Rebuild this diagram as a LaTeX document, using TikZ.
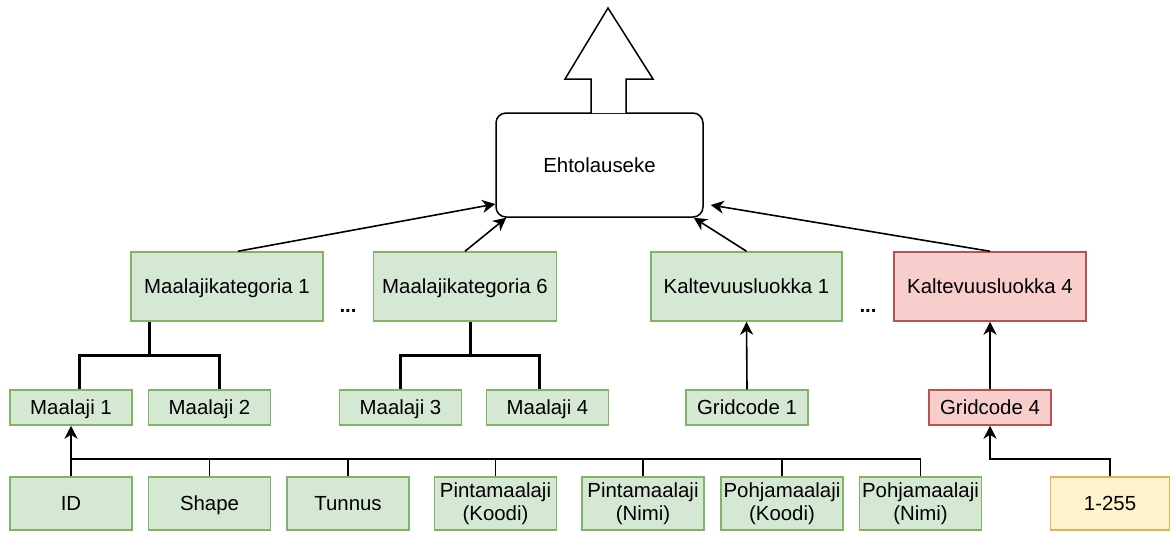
\documentclass[tikz,border=0pt]{standalone}
\usepackage{fontspec}
\setmainfont{Liberation Sans}
\usepackage{tikz}
\usetikzlibrary{calc,positioning}
\usetikzlibrary{arrows.meta}
\tikzset{>={Stealth[length=6.5pt,width=6.5pt,inset=2pt]}}
\definecolor{grnfill}{HTML}{D5E8D4}
\definecolor{grnline}{HTML}{82B366}
\definecolor{redfill}{HTML}{F8CECC}
\definecolor{redline}{HTML}{B85450}
\definecolor{yelfill}{HTML}{FFF2CC}
\definecolor{yelline}{HTML}{D6B656}

\begin{document}
\begin{tikzpicture}[x=0.5pt, y=-0.5pt, font=\fontsize{10.2}{11.7}\selectfont]
  \tikzstyle{gbox} = [draw=grnline, fill=grnfill, line width=0.75pt, inner sep=0pt, align=center]
  \tikzstyle{rbox} = [gbox, draw=redline, fill=redfill]
  \tikzstyle{ybox} = [gbox, draw=yelline, fill=yelfill]
  \tikzstyle{oneline} = [text height=8.5pt, text depth=1.2pt]
  \tikzstyle{katnode} = [oneline, minimum width=96pt, minimum height=34.5pt]
  \tikzstyle{lajinode} = [oneline, minimum width=61pt, minimum height=17.5pt]
  \tikzstyle{leafnode} = [minimum width=61pt, minimum height=26.5pt]
  \tikzstyle{conn} = [line width=0.8pt]
  \tikzstyle{tree} = [line width=1.5pt]

  \useasboundingbox (0,0) rectangle (1171,532);

  % ehtolauseke ja iso nuoli
  \node[draw, oneline, rounded corners=5pt, line width=0.75pt, minimum width=103.5pt, minimum height=52pt] (ehto) at (599.5,165) {Ehtolauseke};
  \draw[line width=0.75pt, fill=white] (591,113) -- (591,79) -- (565,79) -- (608,8) -- (653,79) -- (626,79) -- (626,113);

  % kategoriat
  \node[gbox, katnode] (kat1) at (227,286.5) {Maalajikategoria 1};
  \node[gbox, katnode, minimum width=91.5pt] (kat6) at (465,286.5) {Maalajikategoria 6};
  \node[gbox, katnode, minimum width=95.5pt] (kalt1) at (746.5,286.5) {Kaltevuusluokka 1};
  \node[rbox, katnode] (kalt4) at (990,286.5) {Kaltevuusluokka 4};
  \node (dots1) at (348,311) {\textbf{...}};
  \node (dots2) at (868,311) {\textbf{...}};

  % maalajit ja gridcodet
  \node[gbox, lajinode] (laji1) at (71,407.5) {Maalaji 1};
  \node[gbox, lajinode] (laji2) at (209.5,407.5) {Maalaji 2};
  \node[gbox, lajinode] (laji3) at (400.5,407.5) {Maalaji 3};
  \node[gbox, lajinode] (laji4) at (547.5,407.5) {Maalaji 4};
  \node[gbox, lajinode] (grid1) at (747,407.5) {Gridcode 1};
  \node[rbox, lajinode] (grid4) at (990,407.5) {Gridcode 4};

  % kentat
  \node[gbox, leafnode, oneline] (id) at (71,503.5) {ID};
  \node[gbox, leafnode, oneline] (shape) at (209.5,503.5) {Shape};
  \node[gbox, leafnode, oneline] (tunnus) at (348,503.5) {Tunnus};
  \node[gbox, leafnode] (pintk) at (495.5,503.5) {Pintamaalaji\\(Koodi)};
  \node[gbox, leafnode] (pintn) at (643,503.5) {Pintamaalaji\\(Nimi)};
  \node[gbox, leafnode] (pohjk) at (782,503.5) {Pohjamaalaji\\(Koodi)};
  \node[gbox, leafnode] (pohjn) at (920.5,503.5) {Pohjamaalaji\\(Nimi)};
  \node[ybox, leafnode, oneline, minimum width=59.5pt] (range) at (1110,503.5) {1-255};
  \coordinate (bus) at (0,459);

  % nuolet ehtolausekkeeseen
  \draw[conn, ->] ([xshift=5.5pt]kat1.north) -- ([yshift=-19.5pt]ehto.west);
  \draw[conn, ->] (kat6.north) -- ([xshift=5.5pt]ehto.south west);
  \draw[conn, ->] (kalt1.north) -- ([xshift=-5pt]ehto.south east);
  \draw[conn, ->] (kalt4.north) -- ([xshift=3.5pt,yshift=-20pt]ehto.east);

  % puut
  \draw[tree] ([xshift=-39pt]kat1.south) -- ++(0,-17pt) -| ([xshift=4pt]laji1.north);
  \draw[tree] ([xshift=-39pt]kat1.south) -- ++(0,-17pt) -| ([xshift=4.75pt]laji2.north);
  \draw[tree] ([xshift=2.5pt]kat6.south) -- ++(0,-17pt) -| (laji3.north);
  \draw[tree] ([xshift=2.5pt]kat6.south) -- ++(0,-17pt) -| ([xshift=-4.25pt]laji4.north);

  \draw[conn, ->] (grid1.north) -- (kalt1.south);
  \draw[conn, ->] (grid4.north) -- (kalt4.south);
  \draw[conn, ->] (range.north) -- (range.north |- bus) -| (grid4.south);

  % kentat maalajiin
  \draw[conn, ->] (id.north) -- (laji1.south);
  \draw[conn] (shape.north) |- (id.north |- bus);
  \draw[conn] (tunnus.north) |- (id.north |- bus);
  \draw[conn] (pintk.north) |- (id.north |- bus);
  \draw[conn] (pintn.north) |- (id.north |- bus);
  \draw[conn] (pohjk.north) |- (id.north |- bus);
  \draw[conn] (pohjn.north) |- (id.north |- bus);
\end{tikzpicture}
\end{document}
